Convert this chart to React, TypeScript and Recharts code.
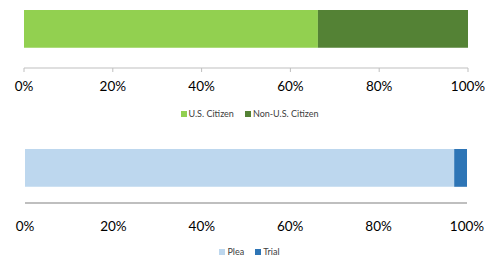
import { BarChart, Bar, XAxis, YAxis, Legend } from 'recharts';

// citizenship split (percent of cases)
const citizenCategories = ['Citizenship'];
const usCitizen = [66.2];
const nonUsCitizen = [33.8];

// disposition split (percent of cases)
const dispositionCategories = ['Disposition'];
const plea = [97.1];
const trial = [2.9];

const percentTicks = [0, 20, 40, 60, 80, 100];

const citizenData = citizenCategories.map((name, i) => ({
  name,
  us: usCitizen[i],
  nonUs: nonUsCitizen[i],
}));

const dispositionData = dispositionCategories.map((name, i) => ({
  name,
  plea: plea[i],
  trial: trial[i],
}));

const TICK_FONT = { fontFamily: 'Lato, sans-serif', fontSize: 13.5, fill: '#000' };

// legend sorts alphabetically by default, so put items back in series order
function SmallLegend({ payload, order }: any) {
  const items = [...(payload || [])].sort(
    (a: any, b: any) => order.indexOf(a.dataKey) - order.indexOf(b.dataKey)
  );
  return (
    <div
      style={{
        display: 'flex',
        justifyContent: 'center',
        gap: 11,
        fontFamily: 'Lato, sans-serif',
        fontSize: 9,
        color: '#404040',
        lineHeight: '11px',
      }}
    >
      {items.map((p: any) => (
        <span key={p.value} style={{ display: 'flex', alignItems: 'center' }}>
          <span
            style={{
              display: 'inline-block',
              width: 6,
              height: 6,
              background: p.color,
              marginRight: 2,
            }}
          />
          {p.value}
        </span>
      ))}
    </div>
  );
}

export default function App() {
  return (
    <div style={{ position: 'absolute', left: 0, top: 0, width: 487, height: 259, background: '#fff' }}>
      <BarChart
        width={487}
        height={130}
        data={citizenData}
        layout="vertical"
        margin={{ top: 8, right: 19, bottom: 0, left: 24 }}
      >
        <XAxis
          type="number"
          domain={[0, 100]}
          ticks={percentTicks}
          tickFormatter={(v) => `${v}%`}
          height={62}
          axisLine={{ stroke: '#BFBFBF' }}
          tickLine={{ stroke: '#BFBFBF' }}
          tickSize={4}
          tickMargin={9}
          tick={TICK_FONT}
          interval={0}
        />
        <YAxis type="category" dataKey="name" hide padding={{ top: 0, bottom: 18 }} />
        <Legend
          layout="horizontal"
          align="center"
          verticalAlign="middle"
          wrapperStyle={{ top: 108, left: 6, width: 487 }}
          content={(props: any) => <SmallLegend {...props} order={['us', 'nonUs']} />}
        />
        <Bar dataKey="us" name="U.S. Citizen" stackId="a" fill="#92D050" barSize={42} isAnimationActive={false} />
        <Bar dataKey="nonUs" name="Non-U.S. Citizen" stackId="a" fill="#548235" barSize={42} isAnimationActive={false} />
      </BarChart>
      <BarChart
        width={487}
        height={129}
        data={dispositionData}
        layout="vertical"
        margin={{ top: 17, right: 20, bottom: 0, left: 25 }}
      >
        <XAxis
          type="number"
          domain={[0, 100]}
          ticks={percentTicks}
          tickFormatter={(v) => `${v}%`}
          height={56}
          axisLine={{ stroke: '#BFBFBF', strokeWidth: 2 }}
          tickLine={false}
          tickMargin={12}
          tick={TICK_FONT}
          interval={0}
        />
        <YAxis type="category" dataKey="name" hide padding={{ top: 0, bottom: 14 }} />
        <Legend
          layout="horizontal"
          align="center"
          verticalAlign="middle"
          wrapperStyle={{ top: 116, left: 6, width: 487 }}
          content={(props: any) => <SmallLegend {...props} order={['plea', 'trial']} />}
        />
        <Bar dataKey="plea" name="Plea" stackId="b" fill="#BDD7EE" barSize={42} isAnimationActive={false} />
        <Bar dataKey="trial" name="Trial" stackId="b" fill="#2E75B6" barSize={42} isAnimationActive={false} />
      </BarChart>
    </div>
  );
}
